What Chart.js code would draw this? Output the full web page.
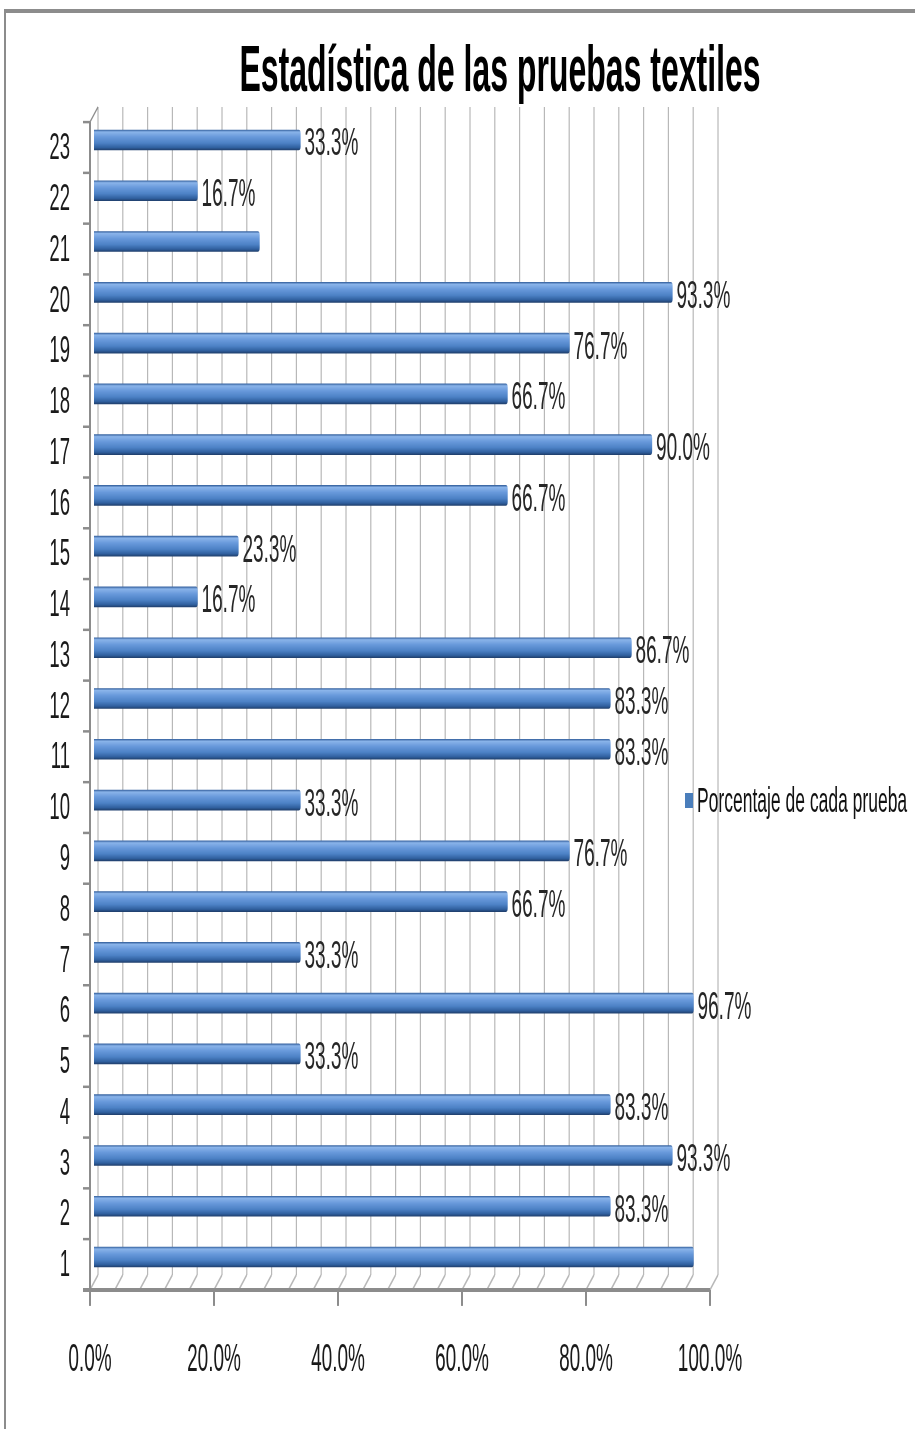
<!DOCTYPE html>
<html>
<head>
<meta charset="utf-8">
<script src="https://cdn.jsdelivr.net/npm/chart.js@4/dist/chart.umd.min.js"></script>
<style>
  html, body { margin: 0; padding: 0; background: #fff; overflow: hidden; }
  #wrap { position: relative; width: 915px; height: 1429px; }
  #frameTop { position: absolute; left: 4px; top: 9px; width: 911px; height: 4px; background: #8c8c8c; }
  #frameLeft { position: absolute; left: 4px; top: 9px; width: 2px; height: 1420px; background: #8c8c8c; }
  #c { position: absolute; left: 0; top: 0; }
</style>
</head>
<body>
<div id="wrap">
  <div id="frameTop"></div>
  <div id="frameLeft"></div>
  <canvas id="c" width="1830" height="1429" style="width:915px;height:1429px"></canvas>
</div>
<script>
// ---- data ----
const categories = ['1','2','3','4','5','6','7','8','9','10','11','12','13','14','15','16','17','18','19','20','21','22','23'];
const values = [96.7, 83.3, 93.3, 83.3, 33.3, 96.7, 33.3, 66.7, 76.7, 33.3, 83.3, 83.3, 86.7, 16.7, 23.3, 66.7, 90.0, 66.7, 76.7, 93.3, 26.7, 16.7, 33.3];
const labeled = [false, true, true, true, true, true, true, true, true, true, true, true, true, true, true, true, true, true, true, true, false, true, true];
const xTicks = [0, 20, 40, 60, 80, 100];
const titleText = 'Estadística de las pruebas textiles';
const seriesName = 'Porcentaje de cada prueba';

// ---- drawing constants (canvas is drawn at double width, then shown condensed) ----
const FONT = '"Liberation Sans", Arial, sans-serif';
const DEPTH_X = 8;     // 3D depth shift, horizontal
const DEPTH_Y = 7.5;   // 3D depth shift, vertical
const BAR_T = 20;      // bar thickness
const MINOR_STEP = 4;  // spacing of the wall grid lines
const CHART_LEFT = 188, CHART_TOP = 114.6, CHART_BOTTOM = 1282.4, CANVAS_W = 1830, CANVAS_H = 1429;
const BAR_FLAT = '#4a7ebb';

function barGradient(ctx) {
  const chart = ctx.chart;
  const ys = chart.scales && chart.scales.y;
  if (ctx.type !== 'data' || !ys) return BAR_FLAT;
  const c = ys.getPixelForValue(ctx.index);
  if (!Number.isFinite(c)) return BAR_FLAT;
  const g = chart.ctx.createLinearGradient(0, c - BAR_T / 2, 0, c + BAR_T / 2);
  g.addColorStop(0.00, '#3a66a3');
  g.addColorStop(0.10, '#8ab4ea');
  g.addColorStop(0.35, '#6899db');
  g.addColorStop(0.65, '#4d82c6');
  g.addColorStop(0.88, '#30609f');
  g.addColorStop(1.00, '#21416f');
  return g;
}

function seg(ctx, x1, y1, x2, y2) {
  ctx.beginPath(); ctx.moveTo(x1, y1); ctx.lineTo(x2, y2); ctx.stroke();
}

// walls, floor and front axes of the 3D frame
const frame3d = {
  id: 'frame3d',
  beforeDatasetsDraw(chart) {
    const { ctx, chartArea: a, scales: { x, y } } = chart;
    const px = v => x.getPixelForValue(v);
    const topB = a.top - DEPTH_Y, botB = a.bottom - DEPTH_Y;
    const topF = a.top + DEPTH_Y, botF = a.bottom + DEPTH_Y;
    ctx.save();
    ctx.lineCap = 'butt';
    ctx.strokeStyle = '#b8b8b8';
    ctx.lineWidth = 2.4;
    for (let v = 0; v <= 100.0001; v += MINOR_STEP) {
      const xb = px(v) + DEPTH_X, xf = px(v) - DEPTH_X;
      seg(ctx, xb, topB, xb, botB);
      seg(ctx, xf, botF, xb, botB);
    }
    // left wall edge
    ctx.strokeStyle = '#8c8c8c';
    ctx.lineWidth = 4;
    const x0f = px(0) - DEPTH_X, x0b = px(0) + DEPTH_X;
    seg(ctx, x0f, topF, x0f, botF);
    ctx.lineWidth = 2;
    seg(ctx, x0f, topF, x0b, topB);
    // category tick marks on the front edge
    const n = categories.length;
    const band = (a.bottom - a.top) / n;
    ctx.lineWidth = 2.5;
    for (let i = 0; i <= n; i++) {
      const yy = a.top + i * band + DEPTH_Y;
      seg(ctx, x0f - 14, yy, x0f, yy);
    }
    // front value axis with tick marks
    ctx.lineWidth = 4;
    seg(ctx, x0f - 14, botF, px(100) - DEPTH_X, botF);
    xTicks.forEach(v => seg(ctx, px(v) - DEPTH_X, botF, px(v) - DEPTH_X, botF + 16));
    ctx.restore();
  }
};

// value labels at the bar ends
const valueLabels = {
  id: 'valueLabels',
  afterDatasetsDraw(chart) {
    const { ctx } = chart;
    const meta = chart.getDatasetMeta(0);
    ctx.save();
    ctx.font = '38px ' + FONT;
    ctx.fillStyle = '#262626';
    ctx.textAlign = 'left';
    ctx.textBaseline = 'middle';
    meta.data.forEach((bar, i) => {
      if (!labeled[i]) return;
      ctx.fillText(values[i].toFixed(1) + '%', bar.x + 8, bar.y + 5);
    });
    ctx.restore();
  }
};

// title and legend
const titleLegend = {
  id: 'titleLegend',
  afterDraw(chart) {
    const { ctx } = chart;
    ctx.save();
    ctx.fillStyle = '#000';
    ctx.font = 'bold 64px ' + FONT;
    ctx.textAlign = 'center';
    ctx.textBaseline = 'alphabetic';
    ctx.fillText(titleText, 1000, 91);
    ctx.fillStyle = BAR_FLAT;
    ctx.fillRect(1370, 793, 16, 15);
    ctx.fillStyle = '#111';
    ctx.font = '35px ' + FONT;
    ctx.textAlign = 'left';
    ctx.fillText(seriesName, 1394, 812);
    ctx.restore();
  }
};

new Chart(document.getElementById('c'), {
  type: 'bar',
  data: {
    labels: categories,
    datasets: [{
      label: seriesName,
      data: values,
      backgroundColor: barGradient,
      borderWidth: 0,
      borderRadius: { topRight: 4, bottomRight: 4 },
      barThickness: BAR_T
    }]
  },
  options: {
    indexAxis: 'y',
    responsive: false,
    devicePixelRatio: 1,
    animation: false,
    layout: { padding: { left: 0, top: CHART_TOP, right: CANVAS_W - 1428, bottom: 0 } },
    plugins: {
      legend: { display: false },
      title: { display: false },
      tooltip: { enabled: false }
    },
    scales: {
      x: {
        type: 'linear',
        min: 0,
        max: 100,
        grid: { display: false, drawTicks: false },
        border: { display: false },
        afterBuildTicks: s => { s.ticks = xTicks.map(v => ({ value: v })); },
        afterFit: s => { s.height = CANVAS_H - CHART_BOTTOM; },
        ticks: {
          padding: 55,
          labelOffset: -DEPTH_X,
          maxRotation: 0,
          font: { family: FONT, size: 38 },
          color: '#1a1a1a',
          callback: v => Number(v).toFixed(1) + '%'
        }
      },
      y: {
        type: 'category',
        reverse: true,
        grid: { display: false, drawTicks: false },
        border: { display: false },
        afterFit: s => { s.width = CHART_LEFT; },
        ticks: {
          padding: 48,
          labelOffset: 9,
          font: { family: FONT, size: 37 },
          color: '#1a1a1a'
        }
      }
    }
  },
  plugins: [frame3d, valueLabels, titleLegend]
});
</script>
</body>
</html>
